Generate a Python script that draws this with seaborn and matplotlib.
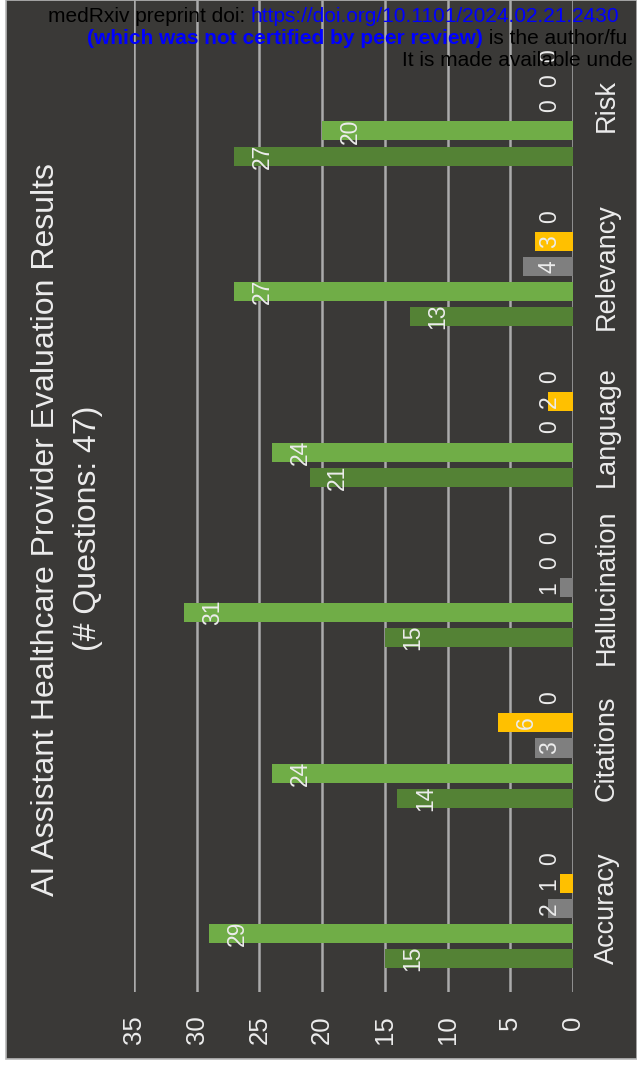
import matplotlib
matplotlib.use("Agg")
import matplotlib.pyplot as plt
import matplotlib.patches as mpatches
import matplotlib.text as mtext
import pandas as pd
import seaborn as sns

# Evaluation counts per criterion (47 questions each)
categories = ["Accuracy", "Citations", "Hallucination", "Language", "Relevancy", "Risk"]
series = ["Score 5", "Score 4", "Score 3", "Score 2", "Score 1"]
score5 = [15, 14, 15, 21, 13, 27]
score4 = [29, 24, 31, 24, 27, 20]
score3 = [2, 3, 1, 0, 4, 0]
score2 = [1, 6, 0, 2, 3, 0]
score1 = [0, 0, 0, 0, 0, 0]
value_ticks = [0, 5, 10, 15, 20, 25, 30, 35]

title_line1 = "AI Assistant Healthcare Provider Evaluation Results"
title_line2 = "(# Questions: 47)"

palette = ["#548235", "#70ad47", "#7f7f7f", "#ffc000", "#4472c4"]
BG = "#3a3937"
TXT = "#ececec"
GRID = "#ababab"

sns.set_theme(style="white")
plt.rcParams["font.family"] = ["Liberation Sans", "DejaVu Sans"]

rows = []
for vals, name in zip([score5, score4, score3, score2, score1], series):
    for cat, v in zip(categories, vals):
        rows.append({"category": cat, "series": name, "count": v})
df = pd.DataFrame(rows)

W, H = 637, 1067
fig = plt.figure(figsize=(W / 100, H / 100), dpi=100, facecolor="white")

# dark chart panel
fig.patches.append(mpatches.Rectangle((6 / W, (H - 1059) / H), 1 - 6 / W, 1059 / H,
                                      transform=fig.transFigure, facecolor=BG,
                                      edgecolor="#b8b8b8", linewidth=1.2, zorder=-5))

ax = fig.add_axes([134 / W, (H - 992) / H, (573 - 134) / W, 992 / H])
ax.set_facecolor("none")

sns.barplot(data=df, x="count", y="category", hue="series", order=categories,
            hue_order=series, palette=palette, orient="h", width=0.78, gap=0.24,
            saturation=1, legend=False, ax=ax, zorder=3, linewidth=0,
            edgecolor="none")

ax.set_xlim(35, 0)
ax.set_ylim(-0.52, 5.66)
ax.set_xticks(value_ticks)
ax.set_xticklabels([str(t) for t in value_ticks], rotation=90, color=TXT,
                   fontsize=18.5)
ax.tick_params(axis="x", length=0, pad=17)
ax.yaxis.tick_right()
ax.set_yticks(range(len(categories)))
ax.set_yticklabels(categories, rotation=90, va="center", ha="left", color=TXT,
                   fontsize=19.5)
ax.tick_params(axis="y", length=0, pad=15)
ax.set_xlabel("")
ax.set_ylabel("")
for s in ax.spines.values():
    s.set_visible(False)
for t in value_ticks:
    ax.axvline(t, color=GRID, linewidth=1.8, zorder=1)

# value labels near the end of each bar
for container in ax.containers:
    for bar in container:
        v = bar.get_width()
        yc = bar.get_y() + bar.get_height() / 2
        ax.text(max(v - 2.25, 1.9), yc, f"{v:g}", rotation=90, ha="center",
                va="center", color=TXT, fontsize=16.5, zorder=5)

fig.text(46 / W, 1 - 530 / H, title_line1, rotation=90, ha="center", va="center",
         color=TXT, fontsize=23)
fig.text(88 / W, 1 - 528 / H, title_line2, rotation=90, ha="center", va="center",
         color=TXT, fontsize=23)

# preprint header
hs = 15
t1 = fig.text(48 / W, 1 - 16 / H, "medRxiv preprint doi: ", ha="left",
              va="center", color="black", fontsize=hs, zorder=10)
fig.add_artist(mtext.Annotation(
    "https://doi.org/10.1101/2024.02.21.2430", xy=(1, 0.5), xycoords=t1,
    ha="left", va="center", color="#0000ff", fontsize=hs, zorder=10))
t2 = fig.text(87 / W, 1 - 38 / H, "(which was not certified by peer review)",
              ha="left", va="center", color="#0000ff", fontsize=hs,
              fontweight="bold", zorder=10)
fig.add_artist(mtext.Annotation(
    " is the author/fu", xy=(1, 0.5), xycoords=t2, ha="left", va="center",
    color="black", fontsize=hs, zorder=10))
fig.text(402 / W, 1 - 60 / H, "It is made available unde", ha="left",
         va="center", color="black", fontsize=hs, zorder=10)

fig.savefig("out.png", dpi=100, facecolor="white")
